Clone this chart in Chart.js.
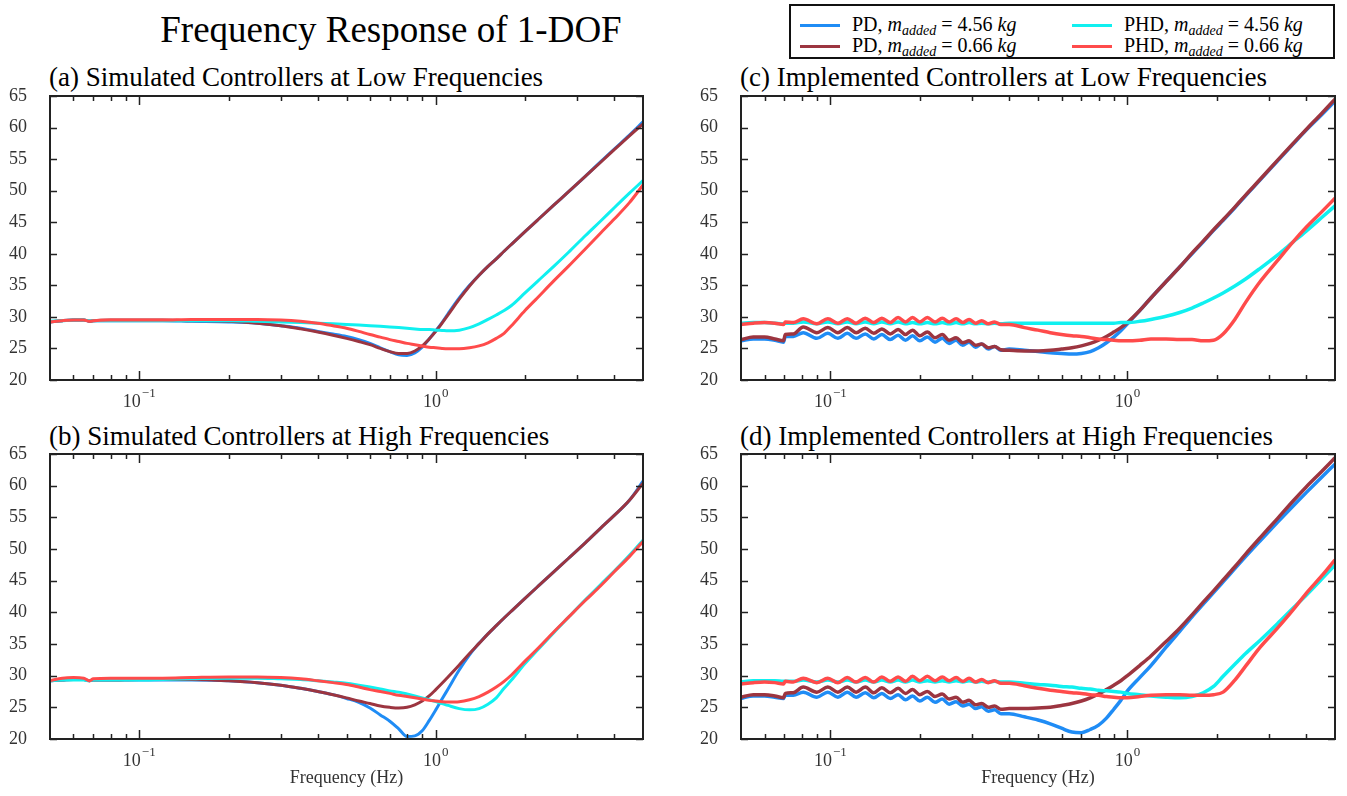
<!DOCTYPE html>
<html>
<head>
<meta charset="utf-8">
<title>Frequency Response of 1-DOF</title>
<script src="https://cdn.jsdelivr.net/npm/chart.js@4.4.1/dist/chart.umd.min.js"></script>
<style>
  body { margin: 0; background: #fff; }
  #page { position: relative; width: 1347px; height: 796px; font-family: 'Liberation Serif', 'Times New Roman', serif; color: #000; overflow: hidden; }
  canvas { position: absolute; }
  #mainTitle { position: absolute; left: 0; top: 8px; width: 782px; text-align: center; font-size: 37px; line-height: 44px; white-space: nowrap; }
  .ptitle { position: absolute; font-size: 27px; line-height: 30px; white-space: nowrap; }
  #legend { position: absolute; left: 789px; top: 4px; width: 542px; height: 51px; border: 2px solid #111; }
  .item { position: absolute; font-size: 20px; line-height: 22px; white-space: nowrap; }
  .sw { display: inline-block; width: 40px; height: 3px; vertical-align: middle; margin-right: 12px; position: relative; top: -1px; }
  .item sub { font-size: 14px; line-height: 0; vertical-align: -4px; }
</style>
</head>
<body>
<div id="page">
  <div id="mainTitle">Frequency Response of 1-DOF</div>
  <div id="legend"></div>
  <div class="ptitle" style="left:49px;top:62px">(a) Simulated Controllers at Low Frequencies</div>
  <div class="ptitle" style="left:740px;top:62px">(c) Implemented Controllers at Low Frequencies</div>
  <div class="ptitle" style="left:49px;top:421px">(b) Simulated Controllers at High Frequencies</div>
  <div class="ptitle" style="left:740px;top:421px">(d) Implemented Controllers at High Frequencies</div>
  <canvas id="chartA" width="655" height="330" style="left:0;top:80px"></canvas>
  <canvas id="chartB" width="655" height="357" style="left:0;top:438px"></canvas>
  <canvas id="chartC" width="656" height="330" style="left:691px;top:80px"></canvas>
  <canvas id="chartD" width="656" height="357" style="left:691px;top:438px"></canvas>
</div>
<script>
// series order: PD 4.56, PD 0.66, PHD 4.56, PHD 0.66
var seriesLabels = ['PD', 'PD', 'PHD', 'PHD'];
var seriesMass = ['4.56', '0.66', '4.56', '0.66'];
var seriesColors = ['#1f8cf5', '#9c3540', '#10f0f0', '#ff4b4b'];

// x tick labels (value -> exponent) and tick marks (Hz)
var xLabelTicks = [0.1, 1];
var xLabelExp = ['\u22121', '0'];
var xTickMarks = [0.06, 0.07, 0.08, 0.09, 0.1, 0.2, 0.3, 0.4, 0.5, 0.6, 0.7, 0.8, 0.9, 1, 2, 3, 4];

// simulated controllers
var simFreq = [0.05, 0.055, 0.06, 0.065, 0.068, 0.07, 0.08, 0.1, 0.12, 0.15, 0.2, 0.25, 0.3, 0.35, 0.4, 0.45, 0.5, 0.55, 0.6, 0.65, 0.7, 0.75, 0.8, 0.85, 0.9, 0.95, 1.0, 1.05, 1.1, 1.2, 1.3, 1.4, 1.5, 1.6, 1.7, 1.8, 2.0, 2.2, 2.5, 2.8, 3.2, 3.6, 4.0, 4.5, 5.0];

var simLowPD456 = [29.2, 29.4, 29.5, 29.5, 29.3, 29.4, 29.4, 29.4, 29.4, 29.3, 29.2, 29.0, 28.6, 28.2, 27.7, 27.3, 26.9, 26.4, 25.8, 25.1, 24.5, 24.0, 23.9, 24.3, 25.2, 26.5, 27.8, 29.1, 30.5, 33.0, 35.0, 36.6, 38.0, 39.2, 40.4, 41.5, 43.5, 45.3, 47.7, 49.8, 52.3, 54.6, 56.6, 58.8, 60.9];
var simLowPD066 = [29.2, 29.4, 29.5, 29.5, 29.3, 29.4, 29.5, 29.5, 29.5, 29.4, 29.3, 29.0, 28.6, 28.1, 27.6, 27.1, 26.6, 26.1, 25.6, 25.0, 24.5, 24.2, 24.2, 24.6, 25.4, 26.5, 27.7, 29.0, 30.3, 32.8, 34.9, 36.6, 38.0, 39.2, 40.4, 41.5, 43.5, 45.3, 47.7, 49.8, 52.3, 54.5, 56.5, 58.7, 60.6];
var simLowPHD456 = [29.3, 29.4, 29.5, 29.5, 29.4, 29.4, 29.4, 29.4, 29.4, 29.4, 29.4, 29.3, 29.2, 29.1, 29.0, 28.9, 28.8, 28.7, 28.6, 28.5, 28.4, 28.3, 28.2, 28.1, 28.0, 28.0, 27.9, 27.85, 27.8, 27.9, 28.3, 28.9, 29.6, 30.3, 31.0, 31.8, 33.8, 35.6, 38.0, 40.2, 42.9, 45.2, 47.3, 49.6, 51.6];
var simLowPHD066 = [29.2, 29.4, 29.5, 29.5, 29.3, 29.4, 29.5, 29.5, 29.5, 29.6, 29.6, 29.6, 29.5, 29.3, 29.0, 28.6, 28.2, 27.7, 27.2, 26.8, 26.4, 26.1, 25.8, 25.6, 25.4, 25.2, 25.1, 25.0, 24.95, 24.95, 25.1, 25.4, 25.9, 26.6, 27.4, 28.6, 31.0, 33.0, 35.7, 38.0, 40.8, 43.3, 45.5, 48.1, 50.9];

var simHighPD456 = [29.2, 29.3, 29.4, 29.4, 29.2, 29.3, 29.3, 29.3, 29.3, 29.3, 29.2, 28.9, 28.5, 28.0, 27.5, 27.0, 26.4, 25.8, 24.9, 23.8, 22.8, 21.6, 20.4, 20.5, 21.3, 22.9, 24.6, 26.3, 27.9, 30.9, 33.3, 35.1, 36.6, 37.9, 39.1, 40.2, 42.2, 44.0, 46.4, 48.5, 51.0, 53.3, 55.3, 57.7, 60.7];
var simHighPD066 = [29.2, 29.3, 29.4, 29.4, 29.2, 29.3, 29.3, 29.4, 29.4, 29.4, 29.2, 28.9, 28.5, 28.0, 27.5, 27.0, 26.5, 26.0, 25.6, 25.2, 25.0, 24.9, 25.0, 25.4, 26.0, 26.8, 27.8, 28.8, 29.8, 31.7, 33.5, 35.1, 36.6, 37.9, 39.1, 40.2, 42.2, 44.0, 46.4, 48.5, 51.0, 53.3, 55.3, 57.7, 60.4];
var simHighPHD456 = [29.2, 29.3, 29.3, 29.3, 29.2, 29.3, 29.3, 29.3, 29.4, 29.5, 29.6, 29.6, 29.5, 29.4, 29.2, 29.0, 28.8, 28.5, 28.2, 27.9, 27.6, 27.4, 27.1, 26.8, 26.5, 26.2, 25.9, 25.6, 25.3, 24.8, 24.6, 24.8, 25.5, 26.5, 28.0, 29.3, 31.9, 34.0, 36.8, 39.2, 42.0, 44.4, 46.5, 49.0, 51.4];
var simHighPHD066 = [29.2, 29.6, 29.7, 29.6, 29.2, 29.5, 29.6, 29.6, 29.6, 29.7, 29.8, 29.8, 29.7, 29.5, 29.2, 28.9, 28.6, 28.2, 27.8, 27.5, 27.2, 26.9, 26.7, 26.5, 26.3, 26.1, 26.0, 25.9, 25.85, 25.9, 26.2, 26.7, 27.4, 28.2, 29.1, 30.1, 32.3, 34.2, 36.9, 39.2, 41.9, 44.2, 46.4, 48.8, 51.2];

var implFreq = [0.05, 0.055, 0.06, 0.065, 0.0695, 0.0705, 0.075, 0.081, 0.09, 0.098, 0.106, 0.114, 0.122, 0.131, 0.14, 0.149, 0.159, 0.169, 0.179, 0.189, 0.2, 0.212, 0.225, 0.238, 0.251, 0.265, 0.279, 0.293, 0.308, 0.323, 0.34, 0.357, 0.375, 0.4, 0.45, 0.5, 0.55, 0.6, 0.65, 0.7, 0.75, 0.8, 0.85, 0.9, 0.95, 1.0, 1.1, 1.2, 1.35, 1.5, 1.65, 1.8, 1.95, 2.1, 2.3, 2.5, 2.8, 3.2, 3.6, 4.0, 4.5, 5.0];

var implLowPD456 = [26.2, 26.5, 26.5, 26.3, 26.0,
  26.9, 26.9, 27.5, 26.6, 27.4, 26.6, 27.4, 26.6, 27.3, 26.5, 27.2, 26.4, 27.1, 26.3, 27.0, 26.2, 26.8, 26.0, 26.6, 25.8, 26.3, 25.5, 26.0, 25.2, 25.7, 24.9, 25.3, 24.7,
  24.9, 24.7, 24.5, 24.3, 24.2, 24.1, 24.2, 24.5, 25.1, 25.9, 26.8, 27.8, 28.9, 31.0, 33.0, 35.6, 37.9, 40.0, 41.9, 43.7, 45.3, 47.3, 49.2, 51.7, 54.7, 57.3, 59.6, 62.0, 64.2];
var implLowPD066 = [26.4, 26.8, 26.8, 26.5, 26.2,
  27.2, 27.3, 28.4, 27.5, 28.3, 27.5, 28.3, 27.5, 28.2, 27.4, 28.1, 27.3, 28.0, 27.2, 27.9, 27.0, 27.6, 26.7, 27.2, 26.3, 26.7, 25.9, 26.2, 25.5, 25.7, 25.1, 25.3, 24.8,
  24.7, 24.6, 24.6, 24.7, 24.9, 25.1, 25.4, 25.8, 26.3, 26.9, 27.6, 28.3, 29.1, 31.0, 33.0, 35.6, 37.9, 40.1, 42.0, 43.8, 45.4, 47.4, 49.3, 51.8, 54.8, 57.4, 59.7, 62.2, 64.5];
var implLowPHD456 = [29.0, 29.1, 29.1, 29.0, 28.9,
  29.0, 29.0, 29.2, 28.9, 29.2, 28.9, 29.2, 28.9, 29.2, 28.9, 29.2, 28.9, 29.2, 28.9, 29.1, 28.9, 29.1, 28.9, 29.1, 28.9, 29.1, 28.9, 29.1, 28.9, 29.0, 28.9, 29.0, 28.9,
  29.0, 29.0, 29.0, 29.0, 29.0, 29.0, 29.0, 29.0, 29.0, 29.0, 29.0, 29.1, 29.1, 29.3, 29.6, 30.1, 30.7, 31.4, 32.2, 33.0, 33.8, 34.9, 36.0, 37.7, 39.8, 41.8, 43.6, 45.7, 47.6];
var implLowPHD066 = [28.8, 29.0, 29.1, 29.0, 28.8,
  29.2, 29.1, 29.7, 28.9, 29.7, 29.0, 29.7, 29.0, 29.8, 29.1, 29.8, 29.1, 29.9, 29.2, 29.9, 29.2, 29.9, 29.2, 29.8, 29.2, 29.7, 29.1, 29.6, 29.0, 29.4, 28.9, 29.2, 28.8,
  28.8, 28.3, 27.9, 27.5, 27.2, 27.0, 26.9, 26.7, 26.5, 26.4, 26.3, 26.2, 26.2, 26.3, 26.5, 26.5, 26.4, 26.4, 26.2, 26.3, 27.3, 29.6, 32.3, 35.6, 38.9, 41.8, 44.2, 46.6, 48.8];

var implHighPD456 = [26.4, 26.8, 26.8, 26.6, 26.4,
  26.9, 26.9, 27.4, 26.6, 27.4, 26.6, 27.4, 26.6, 27.3, 26.5, 27.2, 26.4, 27.0, 26.2, 26.8, 26.0, 26.6, 25.8, 26.3, 25.5, 25.9, 25.2, 25.5, 24.8, 25.1, 24.4, 24.6, 24.0,
  24.0, 23.5, 23.0, 22.4, 21.7, 21.1, 21.0, 21.5, 22.2, 23.3, 24.7, 26.1, 27.6, 29.7, 31.6, 34.5, 37.0, 39.3, 41.3, 43.1, 44.8, 46.9, 48.8, 51.3, 54.2, 56.7, 58.9, 61.3, 63.4];
var implHighPD066 = [26.6, 27.0, 27.0, 26.8, 26.5,
  27.2, 27.3, 28.2, 27.4, 28.2, 27.4, 28.2, 27.4, 28.2, 27.3, 28.1, 27.3, 28.0, 27.2, 27.8, 27.0, 27.5, 26.7, 27.1, 26.3, 26.6, 25.8, 26.1, 25.4, 25.6, 25.0, 25.2, 24.7,
  24.8, 24.8, 24.9, 25.0, 25.3, 25.6, 26.0, 26.5, 27.1, 27.8, 28.5, 29.2, 30.0, 31.6, 33.1, 35.4, 37.5, 39.6, 41.6, 43.4, 45.1, 47.2, 49.2, 51.8, 54.8, 57.5, 59.8, 62.2, 64.4];
var implHighPHD456 = [29.0, 29.2, 29.2, 29.2, 29.1,
  29.1, 29.1, 29.3, 29.0, 29.3, 29.0, 29.3, 29.0, 29.3, 29.0, 29.3, 29.0, 29.3, 29.0, 29.3, 29.0, 29.2, 29.0, 29.2, 29.0, 29.2, 29.0, 29.2, 29.0, 29.1, 29.0, 29.1, 29.0,
  29.0, 28.8, 28.6, 28.5, 28.3, 28.2, 28.0, 27.9, 27.7, 27.6, 27.5, 27.4, 27.2, 27.0, 26.8, 26.6, 26.5, 26.7, 27.3, 28.3, 29.9, 31.8, 33.5, 35.6, 38.2, 40.6, 42.7, 45.2, 47.5];
var implHighPHD066 = [28.7, 28.9, 29.0, 28.9, 28.7,
  29.1, 29.0, 29.6, 28.9, 29.6, 28.9, 29.7, 29.0, 29.7, 29.0, 29.8, 29.1, 29.8, 29.1, 29.9, 29.2, 29.9, 29.2, 29.8, 29.2, 29.7, 29.1, 29.6, 29.0, 29.4, 28.9, 29.2, 28.8,
  28.8, 28.4, 28.0, 27.7, 27.5, 27.3, 27.2, 27.0, 26.9, 26.7, 26.6, 26.5, 26.5, 26.7, 26.9, 27.0, 27.0, 26.9, 26.9, 27.0, 27.4, 29.3, 31.5, 34.5, 37.5, 40.3, 43.0, 45.7, 48.3];

var FONT = "'Liberation Serif', 'DejaVu Serif', serif";
Chart.defaults.font.family = FONT;

// box around the plot, inward tick marks on all four sides, and the 10^n labels
var frameTicks = {
    id: 'frameTicks',
    afterDraw: function (chart) {
        var ctx = chart.ctx, a = chart.chartArea;
        var x = chart.scales.x, y = chart.scales.y;
        ctx.save();
        ctx.strokeStyle = '#222';
        ctx.lineWidth = 1.5;
        ctx.beginPath();
        y.ticks.forEach(function (t) {
            var py = Math.round(y.getPixelForValue(t.value)) + 0.5;
            ctx.moveTo(a.left, py); ctx.lineTo(a.left + 7, py);
            ctx.moveTo(a.right, py); ctx.lineTo(a.right - 7, py);
        });
        xTickMarks.forEach(function (v) {
            var px = Math.round(x.getPixelForValue(v)) + 0.5;
            var len = xLabelTicks.indexOf(v) >= 0 ? 9 : 5;
            ctx.moveTo(px, a.bottom); ctx.lineTo(px, a.bottom - len);
            ctx.moveTo(px, a.top); ctx.lineTo(px, a.top + len);
        });
        ctx.stroke();
        ctx.lineWidth = 2;
        ctx.strokeRect(a.left, a.top, a.right - a.left, a.bottom - a.top);

        ctx.fillStyle = '#333';
        ctx.textBaseline = 'middle';
        ctx.textAlign = 'left';
        xLabelTicks.forEach(function (v, i) {
            var px = x.getPixelForValue(v);
            ctx.font = '18px ' + FONT;
            var wBase = ctx.measureText('10').width;
            ctx.font = '13px ' + FONT;
            var wExp = ctx.measureText(xLabelExp[i]).width;
            var x0 = px - (wBase + 1 + wExp) / 2;
            ctx.font = '18px ' + FONT;
            ctx.fillText('10', x0, a.bottom + 22);
            ctx.font = '13px ' + FONT;
            ctx.fillText(xLabelExp[i], x0 + wBase + 1, a.bottom + 14);
        });
        ctx.restore();
    }
};

function makePanel(id, freq, series, bottomRow, lineWidth) {
    return new Chart(document.getElementById(id), {
        type: 'line',
        data: {
            datasets: series.map(function (vals, i) {
                return {
                    label: seriesLabels[i] + ', m_added = ' + seriesMass[i] + ' kg',
                    data: freq.map(function (f, k) { return { x: f, y: vals[k] }; }),
                    borderColor: seriesColors[i],
                    backgroundColor: seriesColors[i],
                    borderWidth: lineWidth,
                    pointRadius: 0,
                    cubicInterpolationMode: 'monotone',
                    order: 3 - i
                };
            })
        },
        options: {
            responsive: false,
            animation: false,
            devicePixelRatio: 1,
            layout: { padding: { top: 16, right: 12, left: 0, bottom: 0 } },
            plugins: {
                legend: { display: false },
                tooltip: { enabled: false }
            },
            scales: {
                x: {
                    type: 'logarithmic',
                    min: 0.05,
                    max: 5,
                    afterBuildTicks: function (s) {
                        s.ticks = xLabelTicks.map(function (v) { return { value: v }; });
                    },
                    afterFit: function (s) {
                        s.height = bottomRow ? 56 : 30;
                        s.paddingLeft = 0; s.paddingRight = 0;
                    },
                    grid: { display: false, drawTicks: false },
                    border: { display: false },
                    ticks: { display: false },
                    title: {
                        display: bottomRow,
                        text: 'Frequency (Hz)',
                        color: '#333',
                        font: { size: 18, lineHeight: 1 },
                        padding: { top: 0, bottom: 8 }
                    }
                },
                y: {
                    min: 20,
                    max: 65,
                    afterFit: function (s) {
                        s.width = 50;
                        s.paddingTop = 0; s.paddingBottom = 0;
                    },
                    grid: { display: false, drawTicks: false },
                    border: { display: false },
                    ticks: { stepSize: 5, padding: 23, color: '#333', font: { size: 18 } }
                }
            }
        },
        plugins: [frameTicks]
    });
}

makePanel('chartA', simFreq, [simLowPD456, simLowPD066, simLowPHD456, simLowPHD066], false, 3);
makePanel('chartB', simFreq, [simHighPD456, simHighPD066, simHighPHD456, simHighPHD066], true, 3);
makePanel('chartC', implFreq, [implLowPD456, implLowPD066, implLowPHD456, implLowPHD066], false, 3.5);
makePanel('chartD', implFreq, [implHighPD456, implHighPD066, implHighPHD456, implHighPHD066], true, 3.5);

// legend (two columns, like the figure)
var legend = document.getElementById('legend');
seriesLabels.forEach(function (name, i) {
    var item = document.createElement('div');
    item.className = 'item';
    item.style.left = (i < 2 ? 9 : 281) + 'px';
    item.style.top = (i % 2 === 0 ? 7 : 28) + 'px';
    item.innerHTML = '<span class="sw" style="background:' + seriesColors[i] + '"></span>' +
        name + ', <i>m</i><sub><i>added</i></sub> = ' + seriesMass[i] + ' <i>kg</i>';
    legend.appendChild(item);
});
</script>
</body>
</html>
